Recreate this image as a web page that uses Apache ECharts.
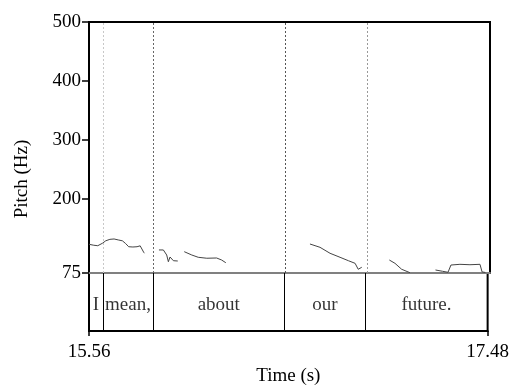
<!DOCTYPE html>
<html>
<head>
<meta charset="utf-8">
<script src="https://cdn.jsdelivr.net/npm/echarts@6/dist/echarts.min.js"></script>
<style>html,body{margin:0;padding:0;background:#fff}#c{width:512px;height:387px}</style>
</head>
<body>
<div id="c"></div>
<script>
// ---- data ----
const tStart = 15.56, tEnd = 17.48;
const xTickLabels = [15.56, 17.48];
const yTickLabels = [75, 200, 300, 400, 500];
const boundaries = [15.627, 15.869, 16.501, 16.891];
const words = ['I', 'mean,', 'about', 'our', 'future.'];

const seg1 = [[15.560,123.6],[15.583,122.0],[15.602,121.2],[15.624,125.3],[15.640,129.5],[15.660,132.0],[15.680,132.6],[15.700,131.0],[15.720,129.5],[15.735,125.0],[15.750,119.5],[15.770,119.0],[15.790,119.5],[15.805,121.0],[15.812,119.0],[15.822,110.0],[15.825,108.5]];
const seg2 = [[15.895,114.0],[15.916,114.0],[15.924,111.1],[15.932,105.5],[15.940,94.1],[15.948,102.1],[15.964,95.8],[15.985,95.3]];
const seg3 = [[16.016,111.1],[16.052,105.5],[16.083,101.6],[16.124,100.0],[16.171,100.4],[16.195,97.0],[16.215,92.4]];
const seg4 = [[16.618,124.1],[16.666,118.5],[16.714,108.4],[16.762,101.6],[16.802,95.8],[16.834,91.4],[16.849,81.3],[16.866,84.7]];
const seg5 = [[16.998,97.0],[17.025,91.4],[17.057,81.3],[17.097,75.5]];
const seg6 = [[17.219,80.1],[17.253,77.9],[17.279,76.2],[17.293,88.5],[17.300,88.5],[17.336,89.7],[17.384,89.0],[17.432,89.7],[17.442,76.8],[17.458,75.9]];

// ---- build ----
const segments = [seg1, seg2, seg3, seg4, seg5, seg6];
const pitchData = [];
segments.forEach((s, i) => { if (i) pitchData.push([null, null]); s.forEach(p => pitchData.push(p)); });
const edges = [tStart].concat(boundaries, [tEnd]);
const wordData = words.map((w, i) => [(edges[i] + edges[i + 1]) / 2, 0.5, w]);
const dotColors = ['#c8c8c8', '#666', '#555', '#999'];
const FONT = 'Liberation Serif';

const chart = echarts.init(document.getElementById('c'), null, {renderer: 'canvas'});
chart.setOption({
  animation: false,
  backgroundColor: '#fff',
  textStyle: {fontFamily: FONT},
  grid: [
    {left: 89, top: 22, width: 401, height: 251, show: true, borderColor: '#000', borderWidth: 2, backgroundColor: 'transparent'},
    {left: 89, top: 273, width: 401, height: 63, show: true, borderColor: '#000', borderWidth: 2, backgroundColor: 'transparent'},
    {left: 89, top: 22, width: 401, height: 314, show: false}
  ],
  xAxis: [
    {gridIndex: 0, type: 'value', min: tStart, max: tEnd, axisLine: {show: true, lineStyle: {color: '#808080', width: 2}},
     axisTick: {show: false}, axisLabel: {show: false}, splitLine: {show: false}},
    {gridIndex: 1, type: 'value', min: tStart, max: tEnd,
     axisLine: {show: true, lineStyle: {color: '#000', width: 2}},
     axisTick: {show: true, customValues: xTickLabels, length: 5, lineStyle: {color: '#000', width: 1.5}},
     axisLabel: {customValues: xTickLabels, formatter: v => v.toFixed(2), color: '#000', fontSize: 19, fontFamily: FONT, margin: 12},
     splitLine: {show: false},
     name: 'Time (s)', nameLocation: 'middle', nameGap: 36, nameTextStyle: {color: '#000', fontSize: 19, fontFamily: FONT}},
    {gridIndex: 2, type: 'value', min: tStart, max: tEnd, show: false}
  ],
  yAxis: [
    {gridIndex: 0, type: 'value', min: 75, max: 500,
     axisLine: {show: true, lineStyle: {color: '#000', width: 2}},
     axisTick: {show: true, customValues: yTickLabels, length: 7, lineStyle: {color: '#000', width: 1.5}},
     axisLabel: {customValues: yTickLabels, color: '#000', fontSize: 19, fontFamily: FONT, margin: 8},
     splitLine: {show: false}},
    {gridIndex: 1, type: 'value', min: 0, max: 1, axisLine: {show: true, lineStyle: {color: '#000', width: 2}},
     axisTick: {show: false}, axisLabel: {show: false}, splitLine: {show: false}},
    {gridIndex: 2, type: 'value', min: 0, max: 1, axisLine: {show: false}, axisTick: {show: false}, axisLabel: {show: false}, splitLine: {show: false},
     name: 'Pitch (Hz)', nameLocation: 'middle', nameGap: 57, nameTextStyle: {color: '#000', fontSize: 19, fontFamily: FONT}}
  ],
  series: [
    {type: 'line', xAxisIndex: 0, yAxisIndex: 0, data: pitchData, showSymbol: false, symbol: 'none', connectNulls: false,
     lineStyle: {color: '#444', width: 1}, clip: true,
     markLine: {silent: true, symbol: ['none', 'none'], label: {show: false},
       lineStyle: {color: '#777', width: 1, type: [2, 2]},
       data: boundaries.map((b, i) => ({xAxis: b, lineStyle: {color: dotColors[i]}}))}},
    {type: 'scatter', xAxisIndex: 1, yAxisIndex: 1, data: wordData, symbolSize: 1, itemStyle: {color: 'rgba(0,0,0,0)'},
     label: {show: true, position: 'inside', offset: [0, 3], formatter: p => p.value[2], color: '#000', fontSize: 19, fontFamily: FONT},
     markLine: {silent: true, symbol: ['none', 'none'], label: {show: false},
       lineStyle: {color: '#000', width: 1, type: 'solid'}, data: boundaries.map(b => ({xAxis: b}))}}
  ]
});
</script>
</body>
</html>
